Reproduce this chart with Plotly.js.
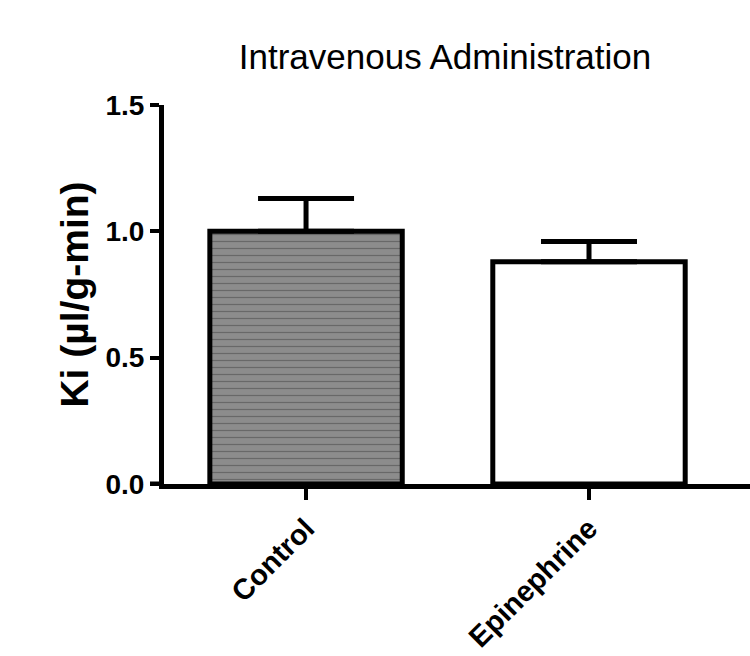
<!DOCTYPE html>
<html>
<head>
<meta charset="utf-8">
<script src="https://cdn.plot.ly/plotly-3.0.1.min.js"></script>
<style>html,body{margin:0;padding:0;background:#fff;}#chart{width:750px;height:656px;}</style>
</head>
<body>
<div id="chart"></div>
<script>
const categories = ["Control", "Epinephrine"];
const kiValues = [1.0, 0.88];
const kiErrors = [0.13, 0.08];
const yTicks = [0, 0.5, 1.0, 1.5];
const yTickLabels = ["0.0", "0.5", "1.0", "1.5"];

const font = "Liberation Sans, Arial, sans-serif";

const trace = {
  type: "bar",
  x: [0, 1],
  y: kiValues,
  width: 0.68,
  marker: {
    color: ["#8c8c8c", "#ffffff"],
    line: {color: "#000", width: 5},
    pattern: {shape: ["-", ""], fillmode: "overlay", fgcolor: "#b4b4b4", size: 7, solidity: 0.18}
  },
  error_y: {type: "data", array: kiErrors, arrayminus: [0, 0], symmetric: false,
            color: "#000", thickness: 5, width: 48},
  hoverinfo: "none"
};

const layout = {
  width: 750, height: 656,
  margin: {l: 164, r: 0, t: 105, b: 172},
  paper_bgcolor: "#fff", plot_bgcolor: "#fff",
  showlegend: false,
  title: {text: "Intravenous Administration", x: 445/750, xref: "container", xanchor: "center",
          y: 1 - 57/656, yref: "container", yanchor: "middle",
          font: {family: font, size: 35, color: "#000"}},
  xaxis: {
    range: [-0.502, 1.569],
    tickmode: "array", tickvals: [0, 1], ticktext: categories,
    tickangle: -45, ticks: "outside", ticklen: 11, tickwidth: 4, tickcolor: "#000",
    showline: true, linecolor: "#000", linewidth: 5,
    showgrid: false, zeroline: false,
    tickfont: {family: font, size: 29, color: "#000", weight: "bold"}
  },
  yaxis: {
    range: [0, 1.5],
    tickmode: "array", tickvals: yTicks, ticktext: yTickLabels,
    ticks: "outside", ticklen: 9, tickwidth: 4, tickcolor: "#000",
    showline: true, linecolor: "#000", linewidth: 5,
    showgrid: false, zeroline: false,
    tickfont: {family: font, size: 28, color: "#000", weight: "bold"},
    title: {text: "Ki (µl/g-min)", font: {family: font, size: 39, color: "#000", weight: "bold"}, standoff: 6}
  },
  shapes: [
    {type: "line", xref: "paper", yref: "y", x0: -14/586, x1: 0, y0: 0, y1: 0,
     line: {color: "#000", width: 5}}
  ]
};

Plotly.newPlot("chart", [trace], layout, {staticPlot: true});
</script>
</body>
</html>
